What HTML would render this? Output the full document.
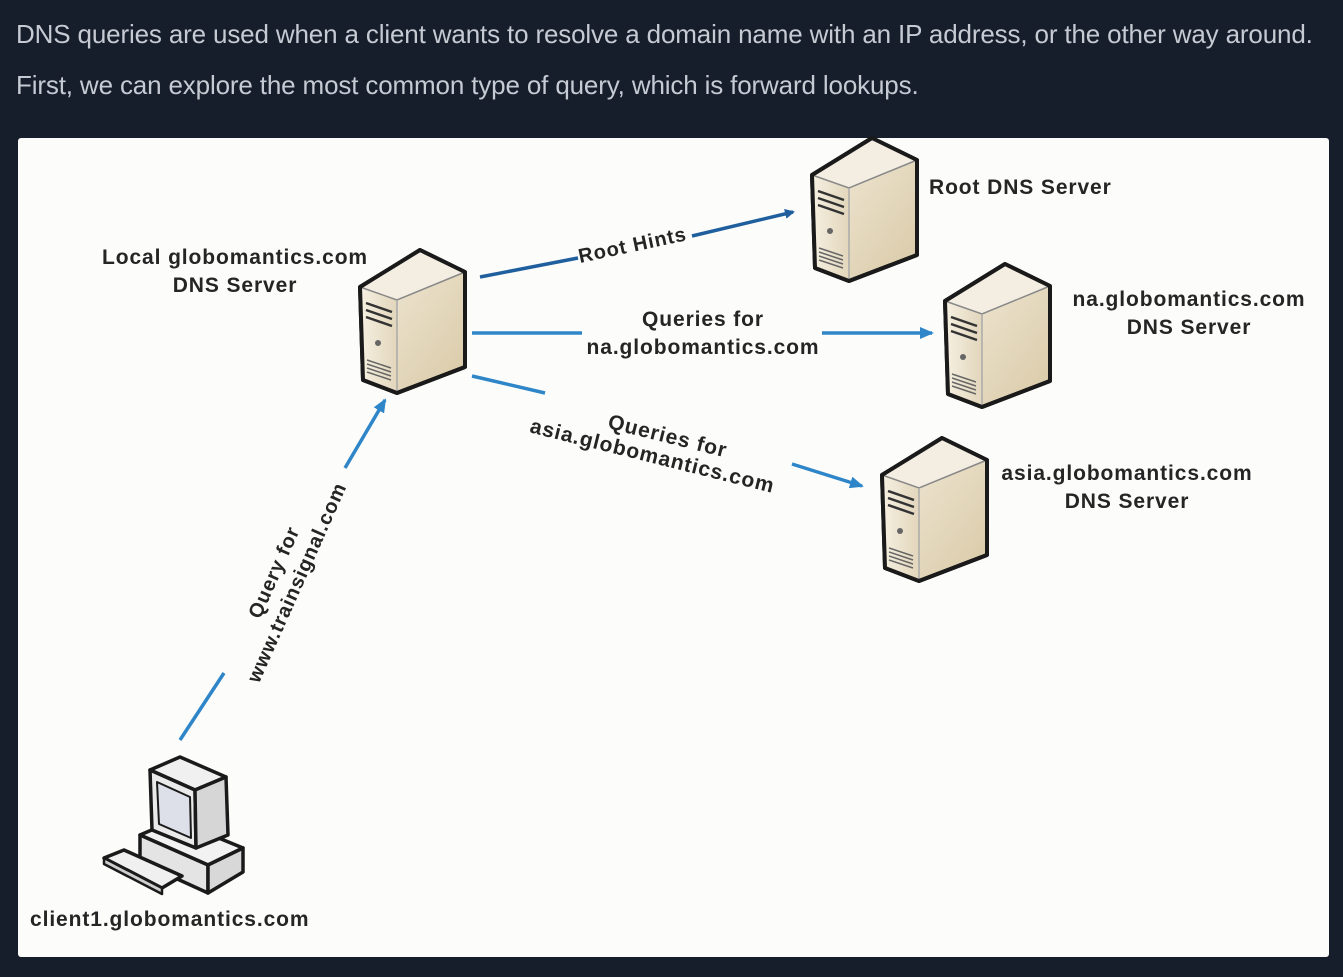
<!DOCTYPE html>
<html><head><meta charset="utf-8"><style>
body{margin:0;width:1343px;height:977px;background:#161e2b;overflow:hidden;font-family:"Liberation Sans",sans-serif;}
.p{position:absolute;left:16px;color:#c5cad3;font-size:26px;letter-spacing:-0.15px;white-space:nowrap}
#panel{position:absolute;left:18px;top:138px;width:1311px;height:819px;background:#fcfcfb;border-radius:3px}
</style></head><body>
<div class="p" style="top:19px">DNS queries are used when a client wants to resolve a domain name with an IP address, or the other way around.</div>
<div class="p" style="top:70px">First, we can explore the most common type of query, which is forward lookups.</div>
<div id="panel"></div>
<svg width="1343" height="977" style="position:absolute;left:0;top:0" font-family="Liberation Sans,sans-serif" font-weight="bold" font-size="21" fill="#252525" letter-spacing="0.9">
<defs>
<linearGradient id="gr" x1="0" y1="0" x2="1" y2="1"><stop offset="0" stop-color="#f3ecdc"/><stop offset="1" stop-color="#d9c9a6"/></linearGradient>
<linearGradient id="gf" x1="0" y1="0" x2="1" y2="0"><stop offset="0" stop-color="#f6f0e2"/><stop offset="1" stop-color="#e2d6bb"/></linearGradient>
<g id="srv">
<polygon points="62,2 107,24 107,119 39,145 5,132 2,39" fill="url(#gr)" stroke="#1a1a1a" stroke-width="4" stroke-linejoin="round"/>
<polygon points="62,2 107,24 39,52 2,39" fill="#f4eee2"/>
<polygon points="2,39 39,52 39,145 5,132" fill="url(#gf)"/>
<polyline points="2,39 39,52 107,24" fill="none" stroke="#888" stroke-width="1.5"/>
<line x1="39" y1="52" x2="39" y2="145" stroke="#aaa" stroke-width="1.5"/>
<path d="M8,55 L34,64 M8,62 L34,71 M8,69 L34,78" stroke="#333" stroke-width="2.5"/>
<circle cx="20" cy="95" r="3" fill="#666"/>
<path d="M9,112 L33,120 M9,116 L33,124 M9,120 L33,128 M9,124 L33,132" stroke="#666" stroke-width="1.5"/>
<polygon points="62,2 107,24 107,119 39,145 5,132 2,39" fill="none" stroke="#1a1a1a" stroke-width="4" stroke-linejoin="round"/>
</g>
<marker id="ad" markerWidth="10" markerHeight="10" refX="8" refY="5" orient="auto" markerUnits="userSpaceOnUse"><path d="M0,0 L10,5 L0,10 z" fill="#1f5f9e"/></marker>
<marker id="al" markerWidth="14" markerHeight="12" refX="12" refY="6" orient="auto" markerUnits="userSpaceOnUse"><path d="M0,0 L14,6 L0,12 z" fill="#2e86c8"/></marker>
</defs>
<use href="#srv" x="358" y="248"/>
<use href="#srv" x="810" y="136"/>
<use href="#srv" x="943" y="262"/>
<use href="#srv" x="880" y="436"/>
<!-- client -->
<g stroke="#1a1a1a" stroke-width="3.5" stroke-linejoin="round">
<polygon points="140,835 175,820 243,848 208,865" fill="#f2f2f2"/>
<polygon points="140,835 208,865 208,893 140,862" fill="#e4e4e4"/>
<polygon points="208,865 243,848 243,872 208,893" fill="#d8d8d8"/>
<polygon points="150,770 180,757 226,777 195,790" fill="#f0f0f0"/>
<polygon points="150,770 195,790 196,848 152,830" fill="#eaeaea"/>
<polygon points="195,790 226,777 228,835 196,848" fill="#d6d6d6"/>
<polygon points="157,782 190,797 191,838 159,824" fill="#dde0e8" stroke-width="2"/>
<polygon points="104,858 124,850 182,876 162,888" fill="#f0f0f0"/>
<polygon points="104,858 162,888 162,894 104,864" fill="#cfcfcf" stroke-width="2.5"/>
</g>
<!-- arrows -->
<line x1="480" y1="277" x2="578" y2="258" stroke="#1f5f9e" stroke-width="3.5"/>
<line x1="692" y1="236" x2="793" y2="212" stroke="#1f5f9e" stroke-width="3.5" marker-end="url(#ad)"/>
<text x="0" y="0" transform="translate(580,263) rotate(-12)" font-size="20">Root Hints</text>
<line x1="472" y1="333" x2="582" y2="333" stroke="#2e86c8" stroke-width="3.5"/>
<line x1="822" y1="333" x2="932" y2="333" stroke="#2e86c8" stroke-width="3.5" marker-end="url(#al)"/>
<text x="703" y="326" text-anchor="middle">Queries for</text>
<text x="703" y="354" text-anchor="middle">na.globomantics.com</text>
<line x1="472" y1="376" x2="545" y2="393" stroke="#2e86c8" stroke-width="3.5"/>
<line x1="792" y1="464" x2="862" y2="486" stroke="#2e86c8" stroke-width="3.5" marker-end="url(#al)"/>
<g transform="translate(535,410) rotate(14)"><text x="135" y="0" text-anchor="middle">Queries for</text><text x="125" y="23" text-anchor="middle">asia.globomantics.com</text></g>
<line x1="180" y1="740" x2="224" y2="673" stroke="#2e86c8" stroke-width="3.5"/>
<line x1="345" y1="468" x2="385" y2="400" stroke="#2e86c8" stroke-width="3.5" marker-end="url(#al)"/>
<g transform="translate(280,575) rotate(-66)"><text x="0" y="0" text-anchor="middle" font-size="20">Query for</text><text x="0" y="25" text-anchor="middle" font-size="20">www.trainsignal.com</text></g>
<!-- labels -->
<text x="235" y="264" text-anchor="middle">Local globomantics.com</text>
<text x="235" y="292" text-anchor="middle">DNS Server</text>
<text x="929" y="194">Root DNS Server</text>
<text x="1189" y="306" text-anchor="middle">na.globomantics.com</text>
<text x="1189" y="334" text-anchor="middle">DNS Server</text>
<text x="1127" y="480" text-anchor="middle">asia.globomantics.com</text>
<text x="1127" y="508" text-anchor="middle">DNS Server</text>
<text x="30" y="926">client1.globomantics.com</text>
</svg>
</body></html>
